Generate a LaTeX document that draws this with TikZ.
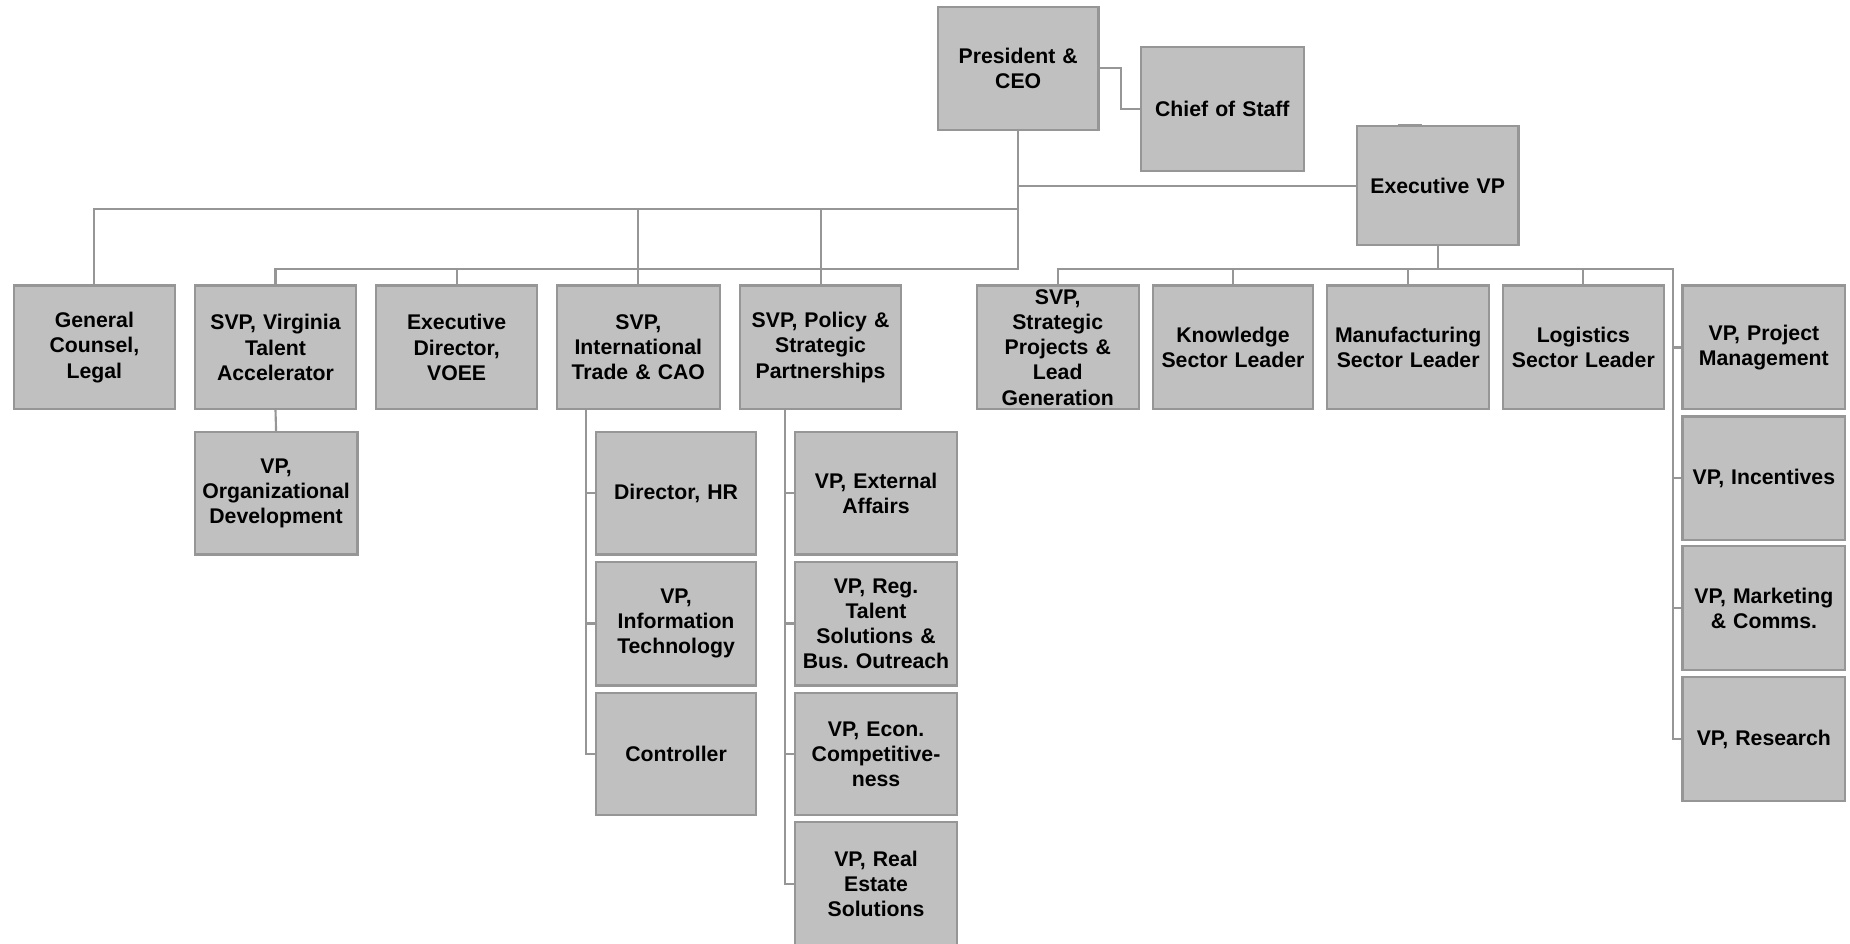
\documentclass[tikz,border=0pt]{standalone}
\usepackage{fontspec}
\setmainfont{Liberation Sans}
\frenchspacing
\definecolor{boxfill}{RGB}{192,192,192}
\definecolor{edgegray}{RGB}{150,150,150}
\tikzset{
  ob/.style={draw=edgegray, fill=boxfill, line width=1.8pt, inner sep=0pt, outer sep=0pt,
    align=center, text width=130pt, font=\bfseries\fontsize{18}{21.3}\selectfont},
  conn/.style={draw=edgegray, line width=1.8pt}
}
\newcommand{\ob}[6]{\node[ob, minimum width={(#4-#2)*1pt}, minimum height={(#5-#3)*1pt}] (#1) at ({(#2+#4)/2},{(#3+#5)/2}) {#6};}
\begin{document}
\begin{tikzpicture}[x=1pt,y=-1pt]
\useasboundingbox (0,0) rectangle (1568,800);
% top
\ob{pres}{795}{6}{931}{110}{President \&\\CEO}
\ob{cos}{967}{40}{1105}{145}{Chief of Staff}
\ob{evp}{1150}{107}{1287}{208}{Executive VP}
% row 1
\ob{gc}{12}{242}{148}{347}{General\\Counsel,\\Legal}
\ob{svpva}{165}{242}{302}{347}{SVP, Virginia\\Talent\\Accelerator}
\ob{voee}{319}{242}{455}{347}{Executive\\Director,\\VOEE}
\ob{svpit}{472}{242}{610}{347}{SVP,\\International\\Trade \& CAO}
\ob{svppol}{627}{242}{764}{347}{SVP, Policy \&\\Strategic\\Partnerships}
\ob{svpsp}{828}{242}{965}{347}{SVP,\\Strategic\\Projects \&\\Lead\\Generation}
\ob{know}{977}{242}{1113}{347}{Knowledge\\Sector Leader}
\ob{manu}{1125}{242}{1262}{347}{Manufacturing\\Sector Leader}
\ob{logi}{1274}{242}{1410}{347}{Logistics\\Sector Leader}
\ob{vppm}{1426}{242}{1564}{347}{VP, Project\\Management}
% right column
\ob{inc}{1426}{353}{1564}{458}{VP, Incentives}
\ob{mkt}{1426}{463}{1564}{568}{VP, Marketing\\\& Comms.}
\ob{res}{1426}{574}{1564}{679}{VP, Research}
% Virginia child
\ob{vpod}{165}{366}{303}{470}{VP,\\Organizational\\Development}
% Intl children
\ob{hr}{505}{366}{641}{470}{Director, HR}
\ob{it}{505}{476}{641}{581}{VP,\\Information\\Technology}
\ob{ctrl}{505}{587}{641}{691}{Controller}
% Policy children
\ob{ext}{674}{366}{811}{470}{VP, External\\Affairs}
\ob{reg}{674}{476}{811}{581}{VP, Reg.\\Talent\\Solutions \&\\Bus. Outreach}
\ob{econ}{674}{587}{811}{691}{VP, Econ.\\Competitive-\\ness}
\ob{re}{674}{697}{811}{801}{VP, Real\\Estate\\Solutions}
% connectors
\coordinate (pdown) at (pres.south |- 0,228);
\draw[conn] (pres.east) -- ++(19,0) |- (cos.west);
\draw[conn] (pres.south) -- (pdown) -| (svpva.north);
\draw[conn] (voee.north) -- (voee.north |- pdown);
\draw[conn] (gc.north) |- (pres.south |- 0,177);
\draw[conn] (svpit.north) -- (svpit.north |- 0,177);
\draw[conn] (svppol.north) -- (svppol.north |- 0,177);
\draw[conn] (pres.south |- evp.west) -- (evp.west);
\draw[conn] (svpva.south) -- (vpod.north);
% EVP bus
\coordinate (eb) at (1418,228);
\draw[conn] (evp.south) -- (evp.south |- eb);
\draw[conn] (svpsp.north) |- (eb) |- (res.west);
\draw[conn] (know.north) -- (know.north |- eb);
\draw[conn] (manu.north) -- (manu.north |- eb);
\draw[conn] (logi.north) -- (logi.north |- eb);
\draw[conn] (vppm.west) -- (vppm.west -| eb);
\draw[conn] (inc.west) -- (inc.west -| eb);
\draw[conn] (mkt.west) -- (mkt.west -| eb);
\draw[conn] (1185,106) -- (1205,106);
% Intl bus
\coordinate (ib) at (497,347);
\draw[conn] (ib) |- (ctrl.west);
\draw[conn] (hr.west) -- (hr.west -| ib);
\draw[conn] (it.west) -- (it.west -| ib);
% Policy bus
\coordinate (pb) at (665,347);
\draw[conn] (pb) |- (re.west);
\draw[conn] (ext.west) -- (ext.west -| pb);
\draw[conn] (reg.west) -- (reg.west -| pb);
\draw[conn] (econ.west) -- (econ.west -| pb);
\end{tikzpicture}
\end{document}
